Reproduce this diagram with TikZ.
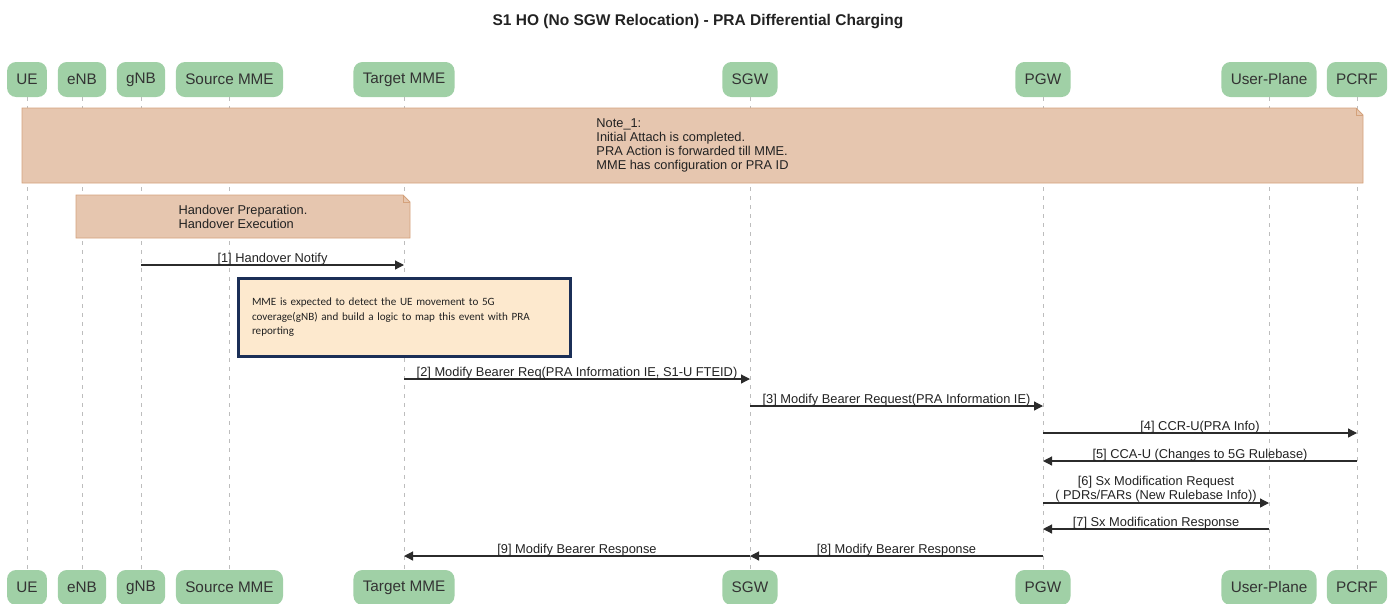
\documentclass[tikz,border=0pt]{standalone}
\usepackage{fontspec}
\setmainfont{Liberation Sans}
\newfontfamily\calibrifont{Carlito}
\usetikzlibrary{arrows.meta,calc}
\definecolor{partfill}{HTML}{A0D0A6}
\definecolor{parttext}{HTML}{333333}
\definecolor{notefill}{HTML}{E6C6AF}
\definecolor{notedraw}{HTML}{D4A27C}
\definecolor{mmefill}{HTML}{FDE9CE}
\definecolor{mmedraw}{HTML}{1B2F57}
\definecolor{lifegray}{HTML}{BDBDBD}
\definecolor{msgcol}{HTML}{2B2B2B}
\definecolor{txtcol}{HTML}{222222}
\begin{document}
\begin{tikzpicture}[x=1pt,y=-1pt,
 part/.style={rectangle, rounded corners=9pt, fill=partfill, text=parttext, minimum height=35pt, inner xsep=9.3pt, inner ysep=0pt, font=\fontsize{15.3}{18}\selectfont},
 lifeline/.style={draw=lifegray, dash pattern=on 4pt off 5pt, line width=0.9pt},
 notebox/.style={fill=notefill, draw=notedraw, line width=0.8pt},
 notetext/.style={align=left, font=\fontsize{12.8}{14}\selectfont, text=txtcol, inner sep=0pt},
 msg/.style={draw=msgcol, line width=1.2pt, -{Triangle[length=9pt,width=9pt]}},
 lbl/.style={anchor=base, yshift=2.5pt, inner sep=0pt, font=\fontsize{12.85}{14}\selectfont, text=txtcol},
 lbltwo/.style={anchor=south, yshift=0.5pt, inner sep=0pt, align=center, font=\fontsize{12.85}{14}\selectfont, text=txtcol},
 mmebox/.style={draw=mmedraw, line width=3pt, fill=mmefill, minimum width=332pt, minimum height=78pt, text width=305pt, inner xsep=13.5pt, inner ysep=0pt, align=left, text=txtcol, font=\calibrifont\fontsize{11.1}{14.5}\selectfont},
]
\useasboundingbox (0,0) rectangle (1396,603);

% title
\node[anchor=base, inner sep=0pt, text=txtcol, font=\fontsize{15.5}{18}\selectfont\bfseries] (title) at (698,25) {S1 HO (No SGW Relocation) - PRA Differential Charging};

% participants (top)
\node[part] (ue)   at (27,79.5)   {UE};
\node[part] (enb)  at (82,79.5)   {eNB};
\node[part] (gnb)  at (141,79.5)  {gNB};
\node[part] (smme) at (229.5,79.5){Source MME};
\node[part] (tmme) at (404,79.5)  {Target MME};
\node[part] (sgw)  at (750,79.5)  {SGW};
\node[part] (pgw)  at (1043,79.5) {PGW};
\node[part] (up)   at (1269,79.5) {User-Plane};
\node[part] (pcrf) at (1357,79.5) {PCRF};
% participants (bottom)
\node[part] (ue2)   at (27,587.5)   {UE};
\node[part] (enb2)  at (82,587.5)   {eNB};
\node[part] (gnb2)  at (141,587.5)  {gNB};
\node[part] (smme2) at (229.5,587.5){Source MME};
\node[part] (tmme2) at (404,587.5)  {Target MME};
\node[part] (sgw2)  at (750,587.5)  {SGW};
\node[part] (pgw2)  at (1043,587.5) {PGW};
\node[part] (up2)   at (1269,587.5) {User-Plane};
\node[part] (pcrf2) at (1357,587.5) {PCRF};

% lifelines
\draw[lifeline] (ue) -- (ue2);
\draw[lifeline] (enb) -- (enb2);
\draw[lifeline] (gnb) -- (gnb2);
\draw[lifeline] (smme) -- (smme2);
\draw[lifeline] (tmme) -- (tmme2);
\draw[lifeline] (sgw) -- (sgw2);
\draw[lifeline] (pgw) -- (pgw2);
\draw[lifeline] (up) -- (up2);
\draw[lifeline] (pcrf) -- (pcrf2);

% Note_1
\coordinate (n1a) at (22,108);
\coordinate (n1b) at (1363,183);
\filldraw[notebox] (n1a) -- ($(n1b |- n1a)+(-7,0)$) -- ($(n1b |- n1a)+(0,7)$) -- (n1b) -- (n1a |- n1b) -- cycle;
\draw[draw=notedraw, line width=0.8pt] ($(n1b |- n1a)+(-7,0)$) -- ($(n1b |- n1a)+(-7,7)$) -- ($(n1b |- n1a)+(0,7)$);
\node[notetext] (note1) at ($(n1a)!0.5!(n1b)$) {Note\_1:\\Initial Attach is completed.\\PRA Action is forwarded till MME.\\MME has configuration or PRA ID};

% Handover note
\coordinate (n2a) at (76,195);
\coordinate (n2b) at (410,238);
\filldraw[notebox] (n2a) -- ($(n2b |- n2a)+(-7,0)$) -- ($(n2b |- n2a)+(0,7)$) -- (n2b) -- (n2a |- n2b) -- cycle;
\draw[draw=notedraw, line width=0.8pt] ($(n2b |- n2a)+(-7,0)$) -- ($(n2b |- n2a)+(-7,7)$) -- ($(n2b |- n2a)+(0,7)$);
\node[notetext] (note2) at ($(n2a)!0.5!(n2b)$) {Handover Preparation.\\Handover Execution};

% message rows
\coordinate (m1) at (0,265);
\coordinate (m2) at (0,379);
\coordinate (m3) at (0,406);
\coordinate (m4) at (0,433);
\coordinate (m5) at (0,461);
\coordinate (m6) at (0,503);
\coordinate (m7) at (0,529);
\coordinate (m8) at (0,556);

\draw[msg] (gnb |- m1) -- node[lbl] {[1] Handover Notify} (tmme |- m1);

% MME box
\node[mmebox] (mmenote) at (404.5,317.5) {MME is expected to detect the UE movement to 5G\\coverage(gNB) and build a logic to map this event with PRA\\reporting};

\draw[msg] (tmme |- m2) -- node[lbl] {[2] Modify Bearer Req(PRA Information IE, S1-U FTEID)} (sgw |- m2);
\draw[msg] (sgw |- m3) -- node[lbl] {[3] Modify Bearer Request(PRA Information IE)} (pgw |- m3);
\draw[msg] (pgw |- m4) -- node[lbl] {[4] CCR-U(PRA Info)} (pcrf |- m4);
\draw[msg] (pcrf |- m5) -- node[lbl] {[5] CCA-U (Changes to 5G Rulebase)} (pgw |- m5);
\draw[msg] (pgw |- m6) -- node[lbltwo] {[6] Sx Modification Request\\( PDRs/FARs (New Rulebase Info))} (up |- m6);
\draw[msg] (up |- m7) -- node[lbl] {[7] Sx Modification Response} (pgw |- m7);
\draw[msg] (pgw |- m8) -- node[lbl] {[8] Modify Bearer Response} (sgw |- m8);
\draw[msg] (sgw |- m8) -- node[lbl] {[9] Modify Bearer Response} (tmme |- m8);
\end{tikzpicture}
\end{document}
